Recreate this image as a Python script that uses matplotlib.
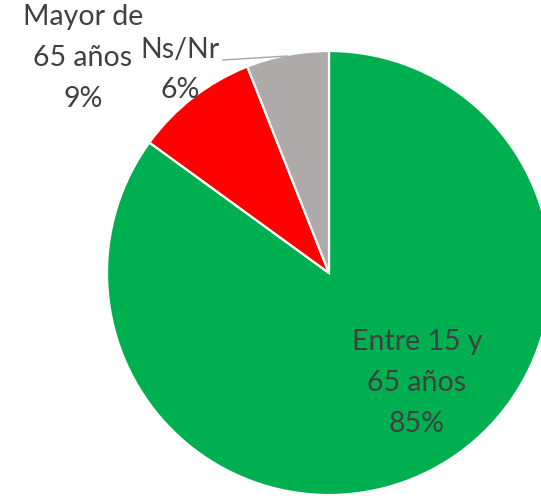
import matplotlib.pyplot as plt

# datos del gráfico
categorias = ["Entre 15 y\n65 años", "Mayor de\n65 años", "Ns/Nr"]
porcentajes = [85, 9, 6]
colores = ["#00B050", "#FF0000", "#AEAAAA"]

W, H = 541, 501
fig = plt.figure(figsize=(W / 100, H / 100), dpi=100)
ax = fig.add_axes([0, 0, 1, 1])

ax.pie(porcentajes, colors=colores, startangle=90, counterclock=False,
       center=(329, H - 273), radius=222,
       wedgeprops=dict(edgecolor="white", linewidth=1.6))

# pie() cambia los límites, se fijan después
ax.set_xlim(0, W)
ax.set_ylim(0, H)
ax.set_aspect("equal")
ax.axis("off")

txt = dict(ha="center", va="center", color="#404040", fontsize=20.5,
           family=["Lato", "DejaVu Sans"], linespacing=1.7)

# etiquetas
posiciones = [(417, 383), (83, 58), (180, 70)]
for cat, pct, (x, y) in zip(categorias, porcentajes, posiciones):
    ax.text(x, H - y, f"{cat}\n{pct}%", **txt)

# línea guía de Ns/Nr
ax.plot([223, 287], [H - 60, H - 56], color="#A6A6A6", lw=1)

fig.savefig("out.png", dpi=100)
